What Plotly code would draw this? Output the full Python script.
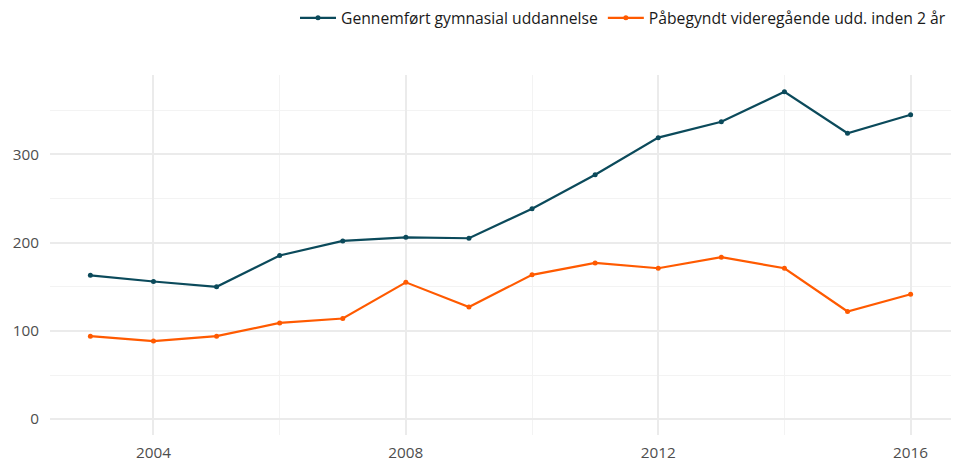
import plotly.graph_objects as go

years = list(range(2003, 2017))
gennemfoert = [163, 156, 150, 185.5, 202, 206, 205, 238.5, 277, 319, 337, 371, 324, 345]
paabegyndt = [94, 88.5, 94, 109, 114, 155, 127, 163.5, 177, 171, 183.5, 171, 122, 141.5]
series_names = ["Gennemført gymnasial uddannelse", "Påbegyndt videregående udd. inden 2 år"]
colors = ["#0b4a5b", "#ff5a00"]
y_ticks = [0, 100, 200, 300]
x_ticks = [2004, 2008, 2012, 2016]

font_family = "Open Sans, sans-serif"

fig = go.Figure()
for name, vals, col in zip(series_names, [gennemfoert, paabegyndt], colors):
    fig.add_trace(go.Scatter(
        x=years, y=vals, name=name, mode="lines+markers",
        line=dict(color=col, width=2.2),
        marker=dict(color=col, size=5),
    ))

# page body has an 8px margin, so the figure is sized to fit the window
fig.update_layout(
    width=952, height=456,
    paper_bgcolor="white", plot_bgcolor="white",
    margin=dict(l=42, r=9, t=67, b=29, autoexpand=False),
    font=dict(family=font_family, size=15, color="#4d4d4d"),
    legend=dict(orientation="h", x=1.0, xanchor="right", y=1.158, yanchor="middle",
                font=dict(size=15.7, color="#1a1a1a"), itemwidth=36,
                tracegroupgap=0, bgcolor="rgba(0,0,0,0)"),
    xaxis=dict(range=[2002.36, 2016.64], tickvals=x_ticks, showgrid=True,
               gridcolor="#ebebeb", gridwidth=1.5, zeroline=False, showline=False,
               ticks="", ticklabelstandoff=7, tickfont=dict(size=15.3, color="#4d4d4d"),
               minor=dict(tickvals=[2002, 2006, 2010, 2014], showgrid=True,
                          gridcolor="#f3f3f3", gridwidth=1)),
    yaxis=dict(range=[-18, 390], tickvals=y_ticks, showgrid=True,
               gridcolor="#ebebeb", gridwidth=1.5, zeroline=False, showline=False,
               ticks="", ticklabelstandoff=10, tickfont=dict(size=15.3, color="#4d4d4d"),
               minor=dict(tickvals=[50, 150, 250, 350], showgrid=True,
                          gridcolor="#f3f3f3", gridwidth=1)),
)

fig.write_html("out.html")
